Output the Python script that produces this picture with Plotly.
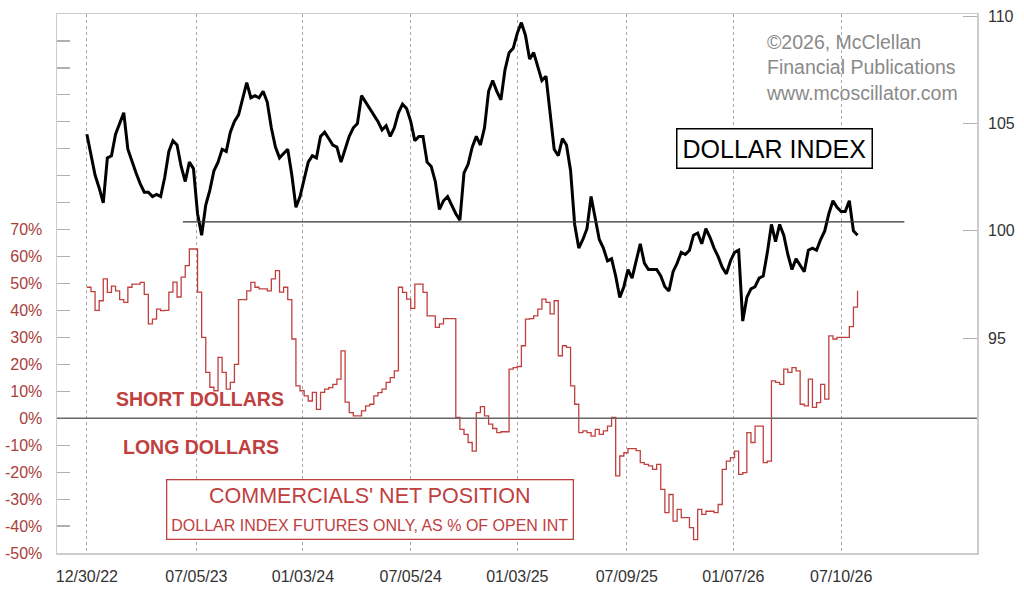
import pandas as pd
import plotly.graph_objects as go

# ---- data (weekly, starting 12/30/22) ----
start_date = "2022-12-30"

dollar_index = [
    104.5, 103.6, 102.6, 102.0, 101.3, 103.4, 103.5, 104.5, 105.0, 105.5,
    103.8, 103.2, 102.7, 102.2, 101.8, 101.8, 101.6, 101.7, 101.6, 102.5,
    103.7, 104.2, 104.0, 103.0, 102.3, 103.2, 102.9, 100.8, 99.8, 101.2,
    101.9, 102.8, 103.2, 103.8, 103.7, 104.6, 105.1, 105.4, 106.2, 106.9,
    106.2, 106.3, 106.2, 106.5, 106.0, 104.8, 103.9, 103.4, 103.6, 103.8,
    102.6, 101.1, 101.6, 102.4, 103.2, 103.5, 103.4, 104.4, 104.6, 104.3,
    104.0, 103.9, 103.2, 103.8, 104.4, 104.8, 105.0, 106.3, 106.0, 105.7,
    105.4, 105.1, 104.7, 104.9, 104.4, 104.8, 105.5, 105.9, 105.7, 105.1,
    104.2, 104.4, 104.4, 103.2, 103.0, 102.3, 101.0, 101.4, 101.6, 101.2,
    100.8, 100.5, 102.7, 103.1, 103.9, 104.4, 104.0, 104.8, 106.5, 107.0,
    106.5, 106.1, 107.5, 108.3, 108.5, 109.2, 109.7, 109.1, 108.0, 108.3,
    107.6, 107.0, 107.2, 105.5, 103.8, 103.5, 104.3, 104.0, 102.8, 100.3,
    99.2, 99.6, 100.1, 101.6, 100.5, 99.6, 99.2, 98.6, 98.7, 97.9,
    96.9, 97.4, 98.2, 97.8, 98.6, 99.4, 98.5, 98.2, 98.2, 98.2,
    97.9, 97.4, 97.2, 98.1, 98.5, 99.0, 98.9, 99.1, 99.8, 99.9,
    99.4, 100.1, 99.7, 99.2, 98.8, 98.3, 98.0, 98.6, 99.0, 99.1,
    95.8, 96.9, 97.3, 97.4, 97.8, 97.9, 99.0, 100.3, 99.5, 100.3,
    99.8, 98.9, 98.2, 98.7, 98.4, 98.1, 99.1, 99.2, 99.1, 99.6,
    100.0, 100.8, 101.4, 101.1, 100.9, 100.9, 101.4, 100.0, 99.8,
]

commercials_net_pct = [
    48.6, 47, 40, 43.6, 51.7, 46.7, 49, 47.3, 44, 43,
    48.6, 49.8, 49.8, 50.4, 46, 35, 36.8, 40.5, 39.9, 40,
    46.8, 50.5, 45, 52.4, 56.6, 62.8, 62.8, 46.8, 30, 17,
    11.5, 10.2, 22.6, 17, 10.8, 13.3, 20, 44, 44, 47.3,
    50.4, 48.6, 48, 48, 47.3, 51.7, 54.8, 46.8, 48.6, 44,
    29.4, 12, 10.2, 8.3, 6.4, 9.6, 3.3, 9.6, 10.8, 11.4,
    12.6, 14.5, 25, 6, 2.1, 0.9, 0.9, 2.7, 4.6, 5.2,
    8.3, 9.5, 10.8, 13.3, 15.1, 17.6, 48.6, 46.7, 44.2, 40.8,
    49.8, 49.8, 46.7, 38, 38, 33.7, 35, 37, 37, 37,
    0.3, -4.1, -6, -9, -12.2, 2.1, 4.3, 0.9, -2.2, -3.8,
    -5.3, -5, -5, 18.2, 18.8, 19.2, 26.9, 36.8, 37, 38,
    40.5, 44.2, 43, 38.7, 43.6, 23.2, 26.9, 26.3, 12, 5.2,
    -5.3, -4.7, -5.3, -6.6, -4.1, -6, -4.7, -2.9, 0.3, -21.4,
    -14, -12.8, -11.3, -11.3, -12, -16.5, -17.1, -17.7, -19, -17.1,
    -26.4, -35, -28.3, -38.2, -33.8, -36.9, -36.9, -40.6, -45, -33.8,
    -35.7, -34.5, -34.5, -35, -32, -19, -15.9, -14.6, -12.2, -20.8,
    -20.2, -5.3, -9, -2.9, -2.9, -16.5, -15.9, 13.9, 13.3, 12.6,
    18.2, 17, 18.8, 17.6, 5.2, 4.6, 14.5, 4, 5.8, 12.6,
    7.1, 30.6, 29.4, 30, 30, 30, 34, 41.2, 47.3,
]

tick_dates = ["2022-12-30", "2023-07-05", "2024-01-03", "2024-07-05",
              "2025-01-03", "2025-07-09", "2026-01-07", "2026-07-10"]
tick_labels = ["12/30/22", "07/05/23", "01/03/24", "07/05/24",
               "01/03/25", "07/09/25", "01/07/26", "07/10/26"]

pct_ticks = list(range(-50, 150, 10))
pct_labels = [f"{v}%" if v <= 70 else "" for v in pct_ticks]
dx_ticks = [95, 100, 105, 110]

support_level = 100.42
support_start = "2023-06-12"
support_end = "2026-10-26"

x_range = ["2022-11-09", "2027-02-27"]
pct_range = [-50, 150]
dx_range = [85, 110.1]

# ---- figure ----
dates_dx = pd.date_range(start_date, periods=len(dollar_index), freq="7D")
dates_cot = pd.date_range(start_date, periods=len(commercials_net_pct), freq="7D")

RED = "#c0403f"
FONT = "Liberation Sans, Arial, sans-serif"

fig = go.Figure()
fig.add_trace(go.Scatter(
    x=dates_cot, y=commercials_net_pct, mode="lines", line_shape="hv",
    line=dict(color=RED, width=1.3), yaxis="y", hoverinfo="skip",
))
fig.add_trace(go.Scatter(
    x=dates_dx, y=dollar_index, mode="lines",
    line=dict(color="black", width=3), yaxis="y2", hoverinfo="skip",
))

# zero line of percent axis
fig.add_shape(type="line", xref="paper", yref="y", x0=0, x1=1, y0=0, y1=0,
              line=dict(color="#666666", width=1.3))
# support line on dollar index
fig.add_shape(type="line", xref="x", yref="y2", x0=support_start, x1=support_end,
              y0=support_level, y1=support_level,
              line=dict(color="#333333", width=1.4))

annotations = [
    dict(text="©2026, McClellan<br>Financial Publications<br>www.mcoscillator.com",
         xref="paper", yref="paper", x=(764 - 57) / 920, y=1 - (29 - 14) / 539,
         xanchor="left", yanchor="top", align="left", showarrow=False,
         font=dict(family=FONT, size=19.5, color="#8a8a8a")),
    dict(text="DOLLAR INDEX", xref="paper", yref="paper",
         x=(774 - 57) / 920, y=1 - (148 - 14) / 539, xanchor="center", yanchor="middle",
         showarrow=False, font=dict(family=FONT, size=25, color="black"),
         bordercolor="black", borderwidth=1.5, borderpad=5, bgcolor="white"),
    dict(text="<b>SHORT DOLLARS</b>", xref="paper", yref="paper",
         x=(200 - 57) / 920, y=1 - (399 - 14) / 539, xanchor="center", yanchor="middle",
         showarrow=False, font=dict(family=FONT, size=19.5, color=RED)),
    dict(text="<b>LONG DOLLARS</b>", xref="paper", yref="paper",
         x=(201 - 57) / 920, y=1 - (447 - 14) / 539, xanchor="center", yanchor="middle",
         showarrow=False, font=dict(family=FONT, size=19.5, color=RED)),
    dict(text="COMMERCIALS' NET POSITION<br><span style='font-size:16px'>DOLLAR INDEX FUTURES ONLY, AS % OF OPEN INT</span>",
         xref="paper", yref="paper",
         x=(370 - 57) / 920, y=1 - (509 - 14) / 539, xanchor="center", yanchor="middle",
         showarrow=False, font=dict(family=FONT, size=21.5, color=RED),
         bordercolor=RED, borderwidth=1.3, borderpad=4, bgcolor="white"),
]

fig.update_layout(
    width=1024, height=591,
    margin=dict(l=57, r=47, t=14, b=38, autoexpand=False),
    paper_bgcolor="white", plot_bgcolor="white",
    showlegend=False,
    font=dict(family=FONT, size=16, color="#333333"),
    annotations=annotations,
    xaxis=dict(
        type="date", range=x_range, tickmode="array",
        tickvals=tick_dates, ticktext=tick_labels,
        showgrid=True, gridcolor="#a8a8a8", griddash="dot", gridwidth=1,
        ticks="", showline=True, mirror=True, linecolor="#cccccc", linewidth=1.5,
        zeroline=False, tickfont=dict(family=FONT, size=16, color="#333333"),
        ticklabelstandoff=8,
    ),
    yaxis=dict(
        range=pct_range, tickmode="array", tickvals=pct_ticks, ticktext=pct_labels,
        ticks="inside", ticklen=13, tickcolor="#b0b0b0", tickwidth=1.2,
        showgrid=False, zeroline=False, showline=True, mirror=True,
        linecolor="#cccccc", linewidth=1.5,
        tickfont=dict(family=FONT, size=16, color="#a8403c"),
        ticklabelstandoff=10,
    ),
    yaxis2=dict(
        range=dx_range, overlaying="y", side="right", tickmode="array",
        tickvals=dx_ticks, ticks="inside", ticklen=14, tickcolor="#b0b0b0",
        tickwidth=1.2, showgrid=False, zeroline=False, showline=False,
        tickfont=dict(family=FONT, size=16, color="#333333"),
        ticklabelstandoff=10,
    ),
)

# remove the page's default body margin so the figure sits at the window's corner
page_fix = ("document.body.style.margin='0';"
            "document.documentElement.style.overflow='hidden';")
fig.write_html("out.html", post_script=page_fix,
               config={"displayModeBar": False, "staticPlot": True})
